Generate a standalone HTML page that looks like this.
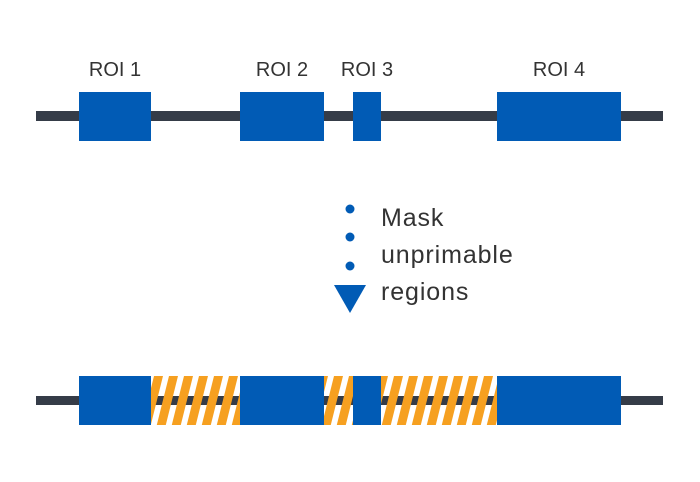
<!DOCTYPE html>
<html><head><style>body{margin:0;background:#fff}svg{display:block}</style></head><body>
<svg width="700" height="482" viewBox="0 0 700 482" xmlns="http://www.w3.org/2000/svg" font-family="Liberation Sans, sans-serif">
<defs>
<pattern id="h" patternUnits="userSpaceOnUse" width="15" height="48" patternTransform="translate(151,376) skewX(-14)">
<rect x="3" y="0" width="9" height="48" fill="#f6a020"/>
</pattern>
</defs>
<rect x="36" y="111" width="627" height="10" fill="#353c48"/>
<g fill="#015bb5">
<rect x="79" y="92" width="72" height="49"/>
<rect x="240" y="92" width="84" height="49"/>
<rect x="353" y="92" width="28" height="49"/>
<rect x="497" y="92" width="124" height="49"/>
</g>
<g fill="#333" font-size="20" text-anchor="middle">
<text x="115" y="76">ROI 1</text>
<text x="282" y="76">ROI 2</text>
<text x="367" y="76">ROI 3</text>
<text x="559" y="76">ROI 4</text>
</g>
<g fill="#015bb5">
<circle cx="350" cy="209" r="4.5"/>
<circle cx="350" cy="237" r="4.5"/>
<circle cx="350" cy="266" r="4.5"/>
<polygon points="334,285 366,285 350,313"/>
</g>
<g fill="#333" font-size="25" letter-spacing="0.9">
<text x="381" y="226">Mask</text>
<text x="381" y="263">unprimable</text>
<text x="381" y="300">regions</text>
</g>
<rect x="36" y="396" width="627" height="9" fill="#353c48"/>
<g fill="url(#h)">
<rect x="151" y="376" width="89" height="49"/>
<rect x="324" y="376" width="29" height="49"/>
<rect x="381" y="376" width="116" height="49"/>
</g>
<g fill="#015bb5">
<rect x="79" y="376" width="72" height="49"/>
<rect x="240" y="376" width="84" height="49"/>
<rect x="353" y="376" width="28" height="49"/>
<rect x="497" y="376" width="124" height="49"/>
</g>
</svg>
</body></html>
